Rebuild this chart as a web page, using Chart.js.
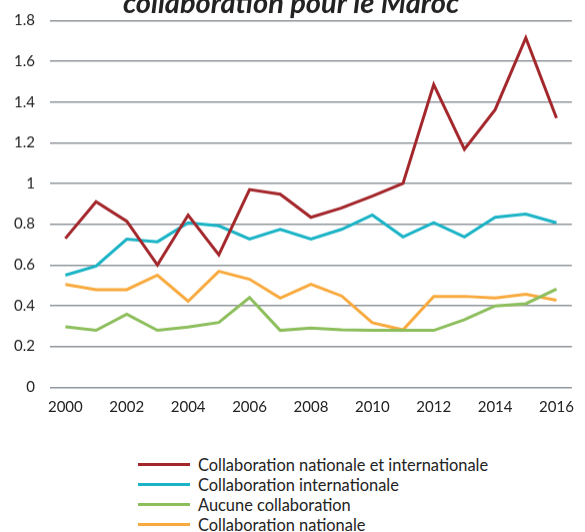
<!DOCTYPE html>
<html>
<head>
<meta charset="utf-8">
<script src="https://cdn.jsdelivr.net/npm/chart.js@4/dist/chart.umd.min.js"></script>
<style>
  html, body { margin: 0; padding: 0; background: #fff; }
  #wrap { position: relative; width: 585px; height: 532px; overflow: hidden; }
  #box { position: absolute; left: 0; top: -12.6px; width: 585px; height: 439.3px; }
  #legend { position: absolute; left: 138px; top: 454px; font-family: Lato, sans-serif; font-size: 16.4px; color: #222; }
  .item { height: 20px; display: flex; align-items: center; }
  .swatch { width: 52px; height: 3px; margin-right: 8px; }
</style>
</head>
<body>
<div id="wrap">
  <div id="box"><canvas id="myChart"></canvas></div>
  <div id="legend"></div>
</div>
<script>
const years = ['2000','2001','2002','2003','2004','2005','2006','2007','2008',
               '2009','2010','2011','2012','2013','2014','2015','2016'];

const natIntl = [0.73, 0.91, 0.815, 0.60, 0.845, 0.65, 0.97, 0.947, 0.834,
                 0.88, 0.938, 1.0, 1.485, 1.168, 1.362, 1.715, 1.321];
const intl = [0.55, 0.595, 0.727, 0.714, 0.807, 0.792, 0.727, 0.775, 0.727,
              0.775, 0.845, 0.738, 0.807, 0.738, 0.834, 0.85, 0.807];
const noCollab = [0.297, 0.279, 0.358, 0.279, 0.295, 0.318, 0.44, 0.279, 0.29,
                  0.282, 0.279, 0.279, 0.279, 0.332, 0.399, 0.41, 0.482];
const national = [0.504, 0.479, 0.479, 0.55, 0.422, 0.569, 0.53, 0.438, 0.505,
                  0.448, 0.317, 0.282, 0.446, 0.446, 0.438, 0.456, 0.427];

const seriesNames = ['Collaboration nationale et internationale', 'Collaboration internationale',
                     'Aucune collaboration', 'Collaboration nationale'];
const colors = ['#A3262B', '#1BB3C6', '#8DBE5C', '#F8AA3E'];
const yTicks = [0, 0.2, 0.4, 0.6, 0.8, 1, 1.2, 1.4, 1.6, 1.8];

const values = [natIntl, intl, noCollab, national];

const data = {
    labels: years,
    datasets: values.map((v, i) => ({
        label: seriesNames[i],
        data: v,
        borderColor: colors[i],
        backgroundColor: colors[i],
        borderWidth: 3,
        pointRadius: 0,
        tension: 0,
        fill: false,
    }))
};

const config = {
    type: 'line',
    data: data,
    options: {
        responsive: true,
        maintainAspectRatio: false,
        animation: false,
        layout: { padding: { left: 0, right: 3, top: 0, bottom: 0 } },
        plugins: {
            legend: { display: false },
            tooltip: { enabled: false },
            title: {
                display: true,
                text: 'collaboration pour le Maroc',
                color: '#222',
                font: { family: 'Lato', size: 29, weight: 'bold', style: 'italic', lineHeight: 1.15 },
                padding: { top: 0, bottom: 0 },
            },
        },
        scales: {
            x: {
                offset: true,
                grid: { display: false, drawTicks: false },
                border: { display: false },
                ticks: {
                    autoSkip: false,
                    maxRotation: 0,
                    padding: 11,
                    color: '#222',
                    font: { family: 'Lato', size: 15 },
                    callback: function (val, idx) { return idx % 2 === 0 ? this.getLabelForValue(val) : ''; },
                },
            },
            y: {
                min: 0,
                max: 1.8,
                afterFit: s => { s.width = 50; },
                afterBuildTicks: s => { s.ticks = yTicks.map(v => ({ value: v })); },
                grid: { color: '#8f959b', lineWidth: 1.5, drawTicks: false },
                border: { display: false },
                ticks: {
                    padding: 15,
                    color: '#222',
                    font: { family: 'Lato', size: 15 },
                    callback: v => String(+v.toFixed(1)),
                },
            },
        },
    },
};

const chart = new Chart(document.getElementById('myChart'), config);

// html legend, one row per series
const legend = document.getElementById('legend');
chart.data.datasets.forEach(ds => {
    const row = document.createElement('div');
    row.className = 'item';
    const sw = document.createElement('span');
    sw.className = 'swatch';
    sw.style.background = ds.borderColor;
    const txt = document.createElement('span');
    txt.textContent = ds.label;
    row.appendChild(sw);
    row.appendChild(txt);
    legend.appendChild(row);
});
</script>
</body>
</html>
